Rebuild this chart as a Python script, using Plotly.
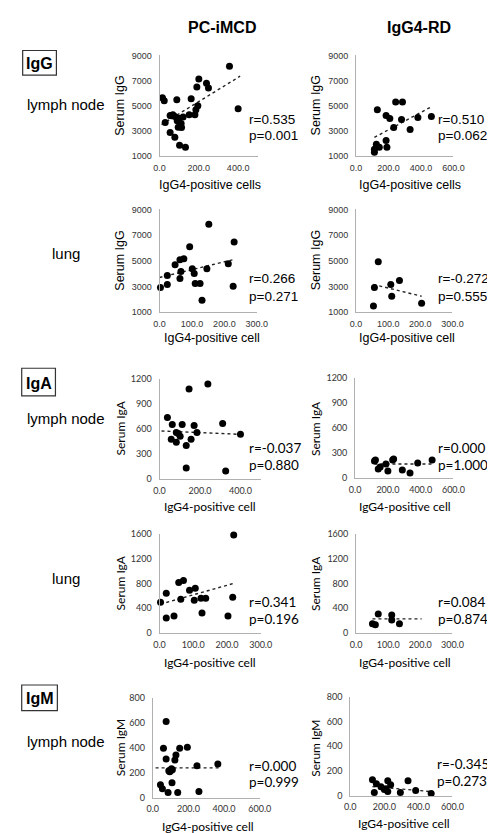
import plotly.graph_objects as go

W, H = 495, 833

# ---------------- data ----------------
# IgG / lymph node
igg_ln_pc_x = [15, 24, 88, 29, 54, 60, 68, 78, 54, 78, 102, 132, 112, 151, 161, 180, 185, 195, 190, 200, 239, 249, 356, 400, 90, 100, 110, 120, 95]
igg_ln_pc_y = [5630, 5390, 5470, 3670, 4220, 4200, 4290, 4140, 2880, 2490, 1860, 1700, 3270, 4290, 5550, 4290, 4690, 5000, 6490, 7120, 6800, 6410, 8140, 4760, 3800, 4000, 3600, 4100, 3300]
igg_ln_pc_trend_x = [10, 410]
igg_ln_pc_trend_y = [3510, 7350]

igg_ln_rd_x = [131, 185, 208, 244, 286, 280, 232, 333, 381, 464, 125, 143, 113, 185, 190, 113]
igg_ln_rd_y = [4690, 4220, 3980, 5310, 5310, 3900, 3270, 3120, 4060, 4140, 1940, 1700, 1550, 2250, 1700, 1310]
igg_ln_rd_trend_x = [113, 464]
igg_ln_rd_trend_y = [2490, 4920]

# IgG / lung
igg_lu_pc_x = [3, 24, 24, 48, 63, 75, 63, 66, 93, 101, 107, 110, 125, 146, 152, 212, 230, 227, 131]
igg_lu_pc_y = [2920, 3850, 3150, 4690, 5080, 5150, 3620, 4150, 6080, 4380, 4000, 3230, 3230, 4380, 7850, 4770, 6460, 3000, 1920]
igg_lu_pc_trend_x = [0, 227]
igg_lu_pc_trend_y = [3690, 5080]

igg_lu_rd_x = [69, 57, 108, 135, 54, 111, 204]
igg_lu_rd_y = [4920, 2920, 3150, 3460, 1460, 2230, 1690]
igg_lu_rd_trend_x = [54, 204]
igg_lu_rd_trend_y = [3150, 2230]

# IgA / lymph node
iga_ln_pc_x = [146, 239, 39, 63, 112, 171, 312, 83, 93, 102, 185, 400, 58, 83, 132, 156, 132, 327]
iga_ln_pc_y = [1081, 1140, 737, 653, 653, 642, 665, 558, 546, 511, 558, 535, 475, 440, 400, 475, 130, 95]
iga_ln_pc_trend_x = [10, 400]
iga_ln_pc_trend_y = [575, 535]

iga_ln_rd_x = [124, 118, 141, 153, 188, 200, 229, 235, 288, 335, 382, 470]
iga_ln_rd_y = [214, 202, 107, 131, 166, 83, 214, 226, 95, 59, 178, 214]
iga_ln_rd_trend_x = [118, 470]
iga_ln_rd_trend_y = [166, 166]

# IgA / lung
iga_lu_pc_x = [3, 20, 20, 43, 57, 71, 89, 63, 106, 103, 123, 137, 126, 203, 217, 220]
iga_lu_pc_y = [496, 640, 240, 272, 816, 848, 688, 544, 720, 528, 560, 560, 320, 272, 576, 1584]
iga_lu_pc_trend_x = [3, 220]
iga_lu_pc_trend_y = [464, 800]

iga_lu_rd_x = [51, 60, 69, 111, 111, 135]
iga_lu_rd_y = [144, 128, 304, 288, 208, 144]
iga_lu_rd_trend_x = [51, 204]
iga_lu_rd_trend_y = [224, 224]

# IgM / lymph node
igm_ln_pc_x = [75, 60, 75, 124, 130, 151, 194, 43, 54, 86, 108, 140, 259, 248, 365, 90, 100, 110, 95, 105]
igm_ln_pc_y = [610, 396, 309, 301, 341, 396, 404, 103, 71, 40, 119, 40, 48, 254, 269, 214, 214, 222, 206, 230]
igm_ln_pc_trend_x = [16, 370]
igm_ln_pc_trend_y = [238, 238]

igm_ln_rd_x = [130, 153, 141, 220, 237, 209, 220, 294, 339, 384, 475, 180, 200]
igm_ln_rd_y = [127, 95, 24, 119, 88, 56, 32, 24, 119, 40, 16, 72, 48]
igm_ln_rd_trend_x = [130, 475]
igm_ln_rd_trend_y = [72, 32]

# ---------------- layout helpers ----------------
ARIAL = "Liberation Sans, Arial, sans-serif"
CALI = "Lato, Carlito, Calibri, sans-serif"
AXCOL = "#b0b0b0"

fig = go.Figure()

panels = [
    (igg_ln_pc_x, igg_ln_pc_y, igg_ln_pc_trend_x, igg_ln_pc_trend_y, [0, 500], 151, 253, [1000, 9000], 144, 42, [0, 200, 400], [1000, 3000, 5000, 7000, 9000], ARIAL),
    (igg_ln_rd_x, igg_ln_rd_y, igg_ln_rd_trend_x, igg_ln_rd_trend_y, [0, 600], 355, 456, [1000, 9000], 144, 42, [0, 200, 400, 600], [1000, 3000, 5000, 7000, 9000], ARIAL),
    (igg_lu_pc_x, igg_lu_pc_y, igg_lu_pc_trend_x, igg_lu_pc_trend_y, [0, 300], 151, 252, [1000, 9000], 302, 198, [0, 100, 200, 300], [1000, 3000, 5000, 7000, 9000], ARIAL),
    (igg_lu_rd_x, igg_lu_rd_y, igg_lu_rd_trend_x, igg_lu_rd_trend_y, [0, 300], 355, 455, [1000, 9000], 302, 198, [0, 100, 200, 300], [1000, 3000, 5000, 7000, 9000], ARIAL),
    (iga_ln_pc_x, iga_ln_pc_y, iga_ln_pc_trend_x, iga_ln_pc_trend_y, [0, 500], 151, 256, [0, 1200], 471, 370, [0, 200, 400], [0, 300, 600, 900, 1200], CALI),
    (iga_ln_rd_x, iga_ln_rd_y, iga_ln_rd_trend_x, iga_ln_rd_trend_y, [0, 600], 354, 456, [0, 1200], 470, 369, [0, 200, 400, 600], [0, 300, 600, 900, 1200], CALI),
    (iga_lu_pc_x, iga_lu_pc_y, iga_lu_pc_trend_x, iga_lu_pc_trend_y, [0, 300], 151, 256, [0, 1600], 627, 527, [0, 100, 200, 300], [0, 400, 800, 1200, 1600], CALI),
    (iga_lu_rd_x, iga_lu_rd_y, iga_lu_rd_trend_x, iga_lu_rd_trend_y, [0, 300], 355, 455, [0, 1600], 627, 527, [0, 100, 200, 300], [0, 400, 800, 1200, 1600], CALI),
    (igm_ln_pc_x, igm_ln_pc_y, igm_ln_pc_trend_x, igm_ln_pc_trend_y, [0, 600], 144, 255, [0, 800], 794, 693, [0, 200, 400, 600], [0, 200, 400, 600, 800], CALI),
    (igm_ln_rd_x, igm_ln_rd_y, igm_ln_rd_trend_x, igm_ln_rd_trend_y, [0, 600], 349, 455, [0, 800], 792, 692, [0, 200, 400, 600], [0, 200, 400, 600, 800], CALI),
]

layout_axes = {}
for i, (dx, dy, tx, ty, xr, px0, px1, yr, pyb, pyt, xt, yt, fnt) in enumerate(panels):
    n = i + 1
    xa = "x" if n == 1 else f"x{n}"
    ya = "y" if n == 1 else f"y{n}"
    fig.add_trace(go.Scatter(x=tx, y=ty, mode="lines", xaxis=xa, yaxis=ya,
                             line=dict(color="#222222", width=1.4, dash="dot"),
                             showlegend=False, hoverinfo="skip"))
    fig.add_trace(go.Scatter(x=dx, y=dy, mode="markers", xaxis=xa, yaxis=ya,
                             marker=dict(color="black", size=7),
                             showlegend=False, cliponaxis=False))
    xkey = "xaxis" if n == 1 else f"xaxis{n}"
    ykey = "yaxis" if n == 1 else f"yaxis{n}"
    layout_axes[xkey] = dict(
        domain=[px0 / W, px1 / W], range=xr, anchor=ya,
        showgrid=False, zeroline=False, showline=True, linecolor=AXCOL, linewidth=1,
        tickvals=xt, ticktext=[f"{v:.1f}" for v in xt],
        ticks="outside", ticklen=3, tickcolor="rgba(0,0,0,0)",
        tickfont=dict(family=fnt, size=9, color="#333333"),
    )
    layout_axes[ykey] = dict(
        domain=[1 - pyb / H, 1 - pyt / H], range=yr, anchor=xa,
        showgrid=False, zeroline=False, showline=True, linecolor=AXCOL, linewidth=1,
        tickvals=yt, ticktext=[str(v) for v in yt],
        ticks="outside", ticklen=5, tickcolor="rgba(0,0,0,0)",
        tickfont=dict(family=fnt, size=9, color="#333333"),
    )

fig.update_layout(**layout_axes)

ann = []
def txt(x, y, s, size=13, fam=ARIAL, bold=False, angle=0, xanchor="center"):
    ann.append(dict(x=x / W, y=1 - y / H, xref="paper", yref="paper", text=(f"<b>{s}</b>" if bold else s),
                    showarrow=False, xanchor=xanchor, yanchor="middle", textangle=angle,
                    font=dict(family=fam, size=size, color="black")))

# column headers
txt(216, 14, "PC-iMCD", size=16, bold=True)
txt(420, 14, "IgG4-RD", size=16, bold=True)

# row labels
for y, s in [(92, "lymph node"), (243, "lung"), (410, "lymph node"), (572, "lung"), (737, "lymph node")]:
    txt(54, y, s, size=15)

# Ig boxes
boxes = [(9, 37, 44, 62, "IgG"), (8, 359, 43, 387, "IgA"), (8, 680, 45, 706, "IgM")]
shapes = []
for x0, y0, x1, y1, s in boxes:
    shapes.append(dict(type="rect", xref="paper", yref="paper", x0=x0 / W, x1=x1 / W,
                       y0=1 - y1 / H, y1=1 - y0 / H, line=dict(color="#333333", width=1.2)))
    txt((x0 + x1) / 2, (y0 + y1) / 2 + 1, s, size=16, bold=True)

# axis titles
ytitles = [(110, 93, "Serum IgG", ARIAL), (313, 93, "Serum IgG", ARIAL),
           (110, 250, "Serum IgG", ARIAL), (313, 250, "Serum IgG", ARIAL),
           (110, 420, "Serum IgA", CALI), (313, 420, "Serum IgA", CALI),
           (110, 577, "Serum IgA", CALI), (313, 577, "Serum IgA", CALI),
           (110, 744, "Serum IgM", CALI), (313, 744, "Serum IgM", CALI)]
for x, y, s, f in ytitles:
    txt(x, y, s, size=12.5 if f == ARIAL else 12, fam=f, angle=-90)

xtitles = [(203, 173, "IgG4-positive cells", ARIAL), (411, 173, "IgG4-positive cells", ARIAL),
           (205, 328, "IgG4-positive cell", ARIAL), (408, 328, "IgG4-positive cell", ARIAL),
           (203, 499, "IgG4-positive cell", CALI), (406, 499, "IgG4-positive cell", CALI),
           (203, 657, "IgG4-positive cell", CALI), (406, 657, "IgG4-positive cell", CALI),
           (201, 823, "IgG4-positive cell", CALI), (405, 820, "IgG4-positive cell", CALI)]
for x, y, s, f in xtitles:
    txt(x, y, s, size=12.5 if f == ARIAL else 12, fam=f)

# r / p values
stats = [(242, 107, 123, "r=0.535", "p=0.001", ARIAL), (438, 107, 123, "r=0.510", "p=0.062", ARIAL),
         (242, 268, 286, "r=0.266", "p=0.271", ARIAL), (438, 268, 286, "r=-0.272", "p=0.555", ARIAL),
         (242, 440, 457, "r=-0.037", "p=0.880", CALI), (438, 440, 457, "r=0.000", "p=1.000", CALI),
         (242, 596, 613, "r=0.341", "p=0.196", CALI), (438, 596, 613, "r=0.084", "p=0.874", CALI),
         (242, 762, 778, "r=0.000", "p=0.999", CALI), (437, 760, 777, "r=-0.345", "p=0.273", CALI)]
for x, y1, y2, r, p, f in stats:
    txt(x, y1, r, size=13.5, fam=f, xanchor="left")
    txt(x, y2, p, size=13.5, fam=f, xanchor="left")

fig.update_layout(width=W, height=H, margin=dict(l=0, r=0, t=0, b=0),
                  paper_bgcolor="white", plot_bgcolor="white",
                  annotations=ann, shapes=shapes, showlegend=False)

fig.write_html("out.html")
